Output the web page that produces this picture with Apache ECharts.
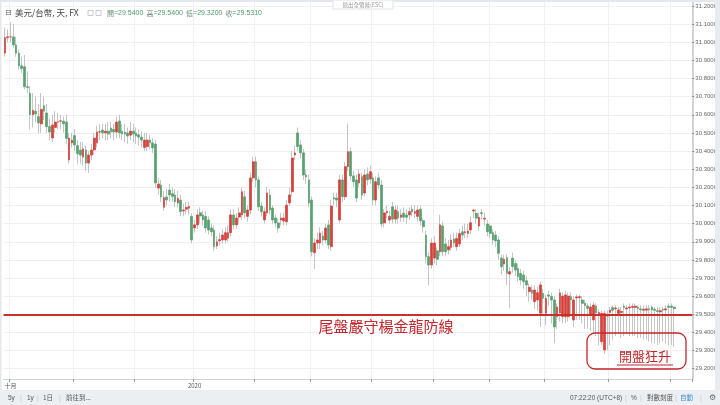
<!DOCTYPE html>
<html><head><meta charset="utf-8">
<script src="https://cdn.jsdelivr.net/npm/echarts@6/dist/echarts.min.js"></script>
<style>html,body{margin:0;padding:0;background:#fff}#c{width:720px;height:405px}</style>
</head><body><div id="c"></div>
<script>
// ---- data ----
const months = ['2019-09','2019-10','2019-11','2019-12','2020-01','2020-02','2020-03','2020-04','2020-05','2020-06','2020-07','2020-08','2020-09'];
const barsPerMonth = [2,23,22,21,22,20,22,22,20,20,23,22,2];
const xLabels = {'2019-10':'十月','2020-01':'2020'};
const openP = [30.94,31.025,31.03,31.03,30.985,30.94,30.87,30.865,30.755,30.72,30.60,30.62,30.59,30.55,30.65,30.61,30.535,30.472,30.53,30.56,30.565,30.565,30.56,30.351,30.445,30.485,30.43,30.406,30.367,30.406,30.334,30.378,30.406,30.445,30.505,30.516,30.50,30.51,30.527,30.52,30.505,30.566,30.51,30.505,30.50,30.488,30.51,30.50,30.49,30.477,30.42,30.425,30.461,30.445,30.439,30.196,30.213,30.09,30.147,30.185,30.165,30.158,30.114,30.13,30.07,30.08,30.085,30.04,29.976,29.993,30.06,30.048,30.04,30.02,29.976,29.965,29.877,29.905,29.91,29.91,29.92,29.95,30.048,29.993,30.036,30.048,30.148,30.04,30.075,30.252,30.341,30.241,30.097,30.02,30.059,30.158,30.086,30.031,30.004,30.02,30.015,30.01,30.114,30.176,30.378,30.50,30.434,30.39,30.268,30.241,30.13,29.84,29.893,29.893,29.932,29.91,29.993,29.873,30.143,30.141,30.02,30.241,30.148,30.314,30.397,30.263,30.241,30.224,30.259,30.169,30.274,30.246,30.252,30.13,30.252,30.213,30.004,30.06,30.02,30.093,30.025,30.066,30.035,30.057,30.048,30.048,30.08,30.057,30.04,30.08,30.016,29.937,29.818,29.772,29.81,29.85,29.845,29.987,29.888,29.855,29.869,29.915,29.873,29.888,29.955,29.95,29.946,29.965,30.07,30.057,29.987,30.06,30.025,29.998,29.987,29.95,29.937,29.91,29.81,29.777,29.812,29.722,29.81,29.78,29.753,29.726,29.717,29.685,29.625,29.634,29.57,29.579,29.506,29.616,29.506,29.607,29.598,29.579,29.487,29.507,29.487,29.487,29.487,29.598,29.469,29.59,29.592,29.579,29.562,29.546,29.496,29.469,29.545,29.50,29.349,29.303,29.49,29.51,29.537,29.53,29.505,29.51,29.545,29.53,29.535,29.538,29.538,29.54,29.53,29.522,29.523,29.53,29.54,29.528,29.52,29.513,29.528,29.524,29.545,29.545,29.54];
const closeP = [31.025,31.03,31.03,30.985,30.94,30.87,30.855,30.755,30.75,30.60,30.625,30.605,30.555,30.63,30.62,30.535,30.505,30.544,30.56,30.562,30.567,30.55,30.47,30.472,30.46,30.434,30.385,30.378,30.412,30.334,30.378,30.406,30.472,30.505,30.507,30.50,30.51,30.494,30.505,30.505,30.56,30.50,30.494,30.494,30.483,30.51,30.494,30.483,30.477,30.461,30.461,30.461,30.445,30.417,30.224,30.218,30.147,30.143,30.13,30.158,30.15,30.12,30.14,30.066,30.075,30.09,30.095,29.91,29.993,30.048,30.042,30.02,29.976,29.965,29.955,29.873,29.90,29.912,29.937,29.95,29.95,30.048,29.993,30.031,30.059,30.176,30.059,30.075,30.252,30.341,30.241,30.093,30.066,30.066,30.169,30.075,30.02,30.004,29.976,30.031,30.031,30.102,30.158,30.362,30.39,30.425,30.39,30.268,30.257,30.114,29.845,29.893,29.91,29.948,29.91,29.976,29.882,30.097,30.136,30.13,30.241,30.148,30.314,30.397,30.263,30.231,30.141,30.274,30.158,30.268,30.241,30.286,30.13,30.231,30.213,29.998,30.059,30.068,30.04,30.025,30.075,30.03,30.048,30.035,30.035,30.066,30.064,30.066,30.075,30.016,29.983,29.818,29.772,29.893,29.893,29.803,29.993,29.845,29.845,29.873,29.91,29.893,29.918,29.946,29.937,29.955,29.959,30.005,30.075,30.03,30.035,30.055,30.03,29.955,29.946,29.91,29.905,29.836,29.763,29.803,29.726,29.735,29.763,29.744,29.707,29.689,29.68,29.662,29.649,29.616,29.634,29.619,29.662,29.588,29.588,29.60,29.579,29.43,29.54,29.618,29.60,29.607,29.601,29.579,29.579,29.596,29.597,29.56,29.548,29.533,29.54,29.551,29.507,29.51,29.505,29.505,29.50,29.523,29.522,29.535,29.524,29.516,29.538,29.535,29.54,29.544,29.545,29.533,29.524,29.528,29.53,29.524,29.524,29.522,29.515,29.52,29.523,29.53,29.538,29.538,29.531];
const highP = [31.08,31.07,31.11,31.10,31.03,30.96,30.92,30.93,30.84,30.76,30.72,30.70,30.66,30.72,30.70,30.66,30.58,30.60,30.62,30.61,30.60,30.59,30.60,30.50,30.50,30.52,30.46,30.45,30.45,30.43,30.40,30.44,30.50,30.54,30.55,30.55,30.55,30.56,30.56,30.55,30.59,30.60,30.55,30.55,30.53,30.56,30.55,30.53,30.52,30.51,30.50,30.50,30.49,30.47,30.46,30.25,30.24,30.18,30.19,30.22,30.20,30.19,30.18,30.16,30.11,30.12,30.12,30.06,30.02,30.08,30.09,30.07,30.07,30.04,30.00,29.99,29.93,29.95,29.97,29.98,29.99,30.08,30.08,30.06,30.09,30.20,30.18,30.10,30.28,30.37,30.37,30.26,30.12,30.09,30.20,30.19,30.10,30.05,30.03,30.06,30.06,30.13,30.20,30.40,30.43,30.53,30.46,30.41,30.30,30.27,30.15,29.92,29.95,29.98,29.96,30.00,30.02,30.13,30.17,30.17,30.27,30.27,30.34,30.55,30.42,30.29,30.27,30.30,30.28,30.30,30.31,30.32,30.28,30.26,30.28,30.24,30.08,30.10,30.07,30.12,30.10,30.10,30.08,30.09,30.08,30.09,30.10,30.10,30.10,30.10,30.03,29.96,29.84,29.92,29.93,29.87,30.05,30.01,29.92,29.91,29.94,29.95,29.95,29.97,29.99,30.00,30.00,30.04,30.08,30.08,30.06,30.08,30.06,30.02,30.00,29.97,29.96,29.93,29.83,29.83,29.83,29.76,29.84,29.80,29.78,29.75,29.74,29.71,29.67,29.66,29.66,29.65,29.68,29.64,29.61,29.63,29.62,29.60,29.56,29.64,29.62,29.63,29.62,29.62,29.60,29.61,29.61,29.60,29.58,29.56,29.56,29.57,29.56,29.53,29.52,29.52,29.52,29.54,29.55,29.55,29.54,29.54,29.56,29.55,29.56,29.56,29.56,29.55,29.55,29.55,29.55,29.55,29.55,29.54,29.54,29.54,29.54,29.55,29.56,29.56,29.54];
const lowP = [30.92,31.00,31.00,30.97,30.92,30.85,30.83,30.74,30.72,30.52,30.53,30.56,30.50,30.50,30.57,30.50,30.46,30.45,30.50,30.52,30.52,30.50,30.44,30.33,30.42,30.40,30.33,30.33,30.32,30.29,30.28,30.35,30.38,30.42,30.46,30.47,30.46,30.46,30.47,30.46,30.47,30.47,30.46,30.45,30.44,30.46,30.45,30.44,30.43,30.42,30.40,30.40,30.41,30.39,30.20,30.16,30.12,30.07,30.10,30.12,30.12,30.09,30.09,30.04,30.04,30.05,30.05,29.89,29.95,29.97,30.00,29.99,29.95,29.94,29.93,29.85,29.86,29.88,29.89,29.89,29.90,29.93,29.97,29.97,30.00,30.02,30.03,30.01,30.05,30.23,30.20,30.07,30.04,30.00,30.04,30.05,30.00,29.98,29.95,29.99,29.99,29.99,30.10,30.15,30.35,30.40,30.36,30.24,30.22,30.09,29.82,29.75,29.86,29.86,29.88,29.89,29.86,29.85,30.10,30.09,30.00,30.12,30.13,30.29,30.24,30.20,30.12,30.20,30.13,30.15,30.21,30.22,30.10,30.10,30.19,29.98,29.98,30.03,30.00,30.00,30.00,30.00,30.01,30.01,30.00,30.02,30.04,30.03,30.01,29.99,29.95,29.78,29.66,29.75,29.78,29.77,29.82,29.82,29.82,29.83,29.85,29.87,29.85,29.87,29.91,29.92,29.92,29.94,30.03,30.00,29.96,30.02,29.99,29.93,29.92,29.88,29.87,29.80,29.72,29.74,29.66,29.535,29.73,29.71,29.68,29.66,29.64,29.60,29.57,29.58,29.53,29.52,29.43,29.50,29.44,29.55,29.45,29.34,29.42,29.46,29.45,29.45,29.46,29.50,29.43,29.47,29.47,29.45,29.42,29.42,29.41,29.39,29.38,29.33,29.33,29.28,29.30,29.33,29.36,29.38,29.40,29.37,29.38,29.39,29.38,29.38,29.38,29.37,29.37,29.36,29.36,29.35,29.34,29.34,29.33,29.34,29.35,29.34,29.33,29.33,29.32];
const refLevel = 29.5;
const yMin = 29.1432, yMax = 31.2331;
const titleText = '美元/台幣, 天, FX';
const noteLine = '尾盤嚴守楊金龍防線';
const noteBox = '開盤狂升';

// ---- styling ----
const RED = '#d63f3a', GREEN = '#57a06f', WICK = '#c4c4c4', NOTE = '#c4262b';
const FONT = '"Liberation Sans","Noto Sans CJK TC",sans-serif';
const CJK = '"Noto Sans CJK TC","Noto Sans CJK SC",sans-serif';

const N = openP.length;
const cats = [];
const monthStart = new Set();
const labelAt = {};
let acc = 0;
months.forEach((m, mi) => {
  if (mi > 0) monthStart.add(acc);
  if (xLabels[m]) labelAt[acc] = xLabels[m];
  for (let k = 0; k < barsPerMonth[mi]; k++) cats.push(m + '-' + (k + 1));
  acc += barsPerMonth[mi];
});
for (let k = 0; k < 6; k++) cats.push('');

const wickData = openP.map((o, i) => [o, closeP[i], lowP[i], highP[i]]);
const bodyData = openP.map((o, i) => [o, closeP[i], Math.min(o, closeP[i]), Math.max(o, closeP[i])]);
const last = N - 1;
const f4 = v => v.toFixed(4);

const sep = x => ({ type: 'text', x: x, y: 398, style: { text: '|', fill: '#c8c8c8', fontSize: 7, fontFamily: FONT, verticalAlign: 'middle' }, z: 52 });
const tb = (x, t, c, fam) => ({ type: 'text', x: x, y: 398, style: { text: t, fill: c || '#555', fontSize: 6.5, fontFamily: fam || CJK, verticalAlign: 'middle' }, z: 52 });

const chart = echarts.init(document.getElementById('c'));
chart.setOption({
  animation: false,
  backgroundColor: '#ffffff',
  grid: { left: 3.6, right: 27, top: 0, bottom: 26 },
  xAxis: {
    type: 'category', data: cats, boundaryGap: true,
    axisLine: { show: true, lineStyle: { color: '#cfd2d6', width: 1 } },
    axisTick: { show: true, interval: i => monthStart.has(i), length: 3, lineStyle: { color: '#9a9a9a' } },
    axisLabel: { interval: i => labelAt[i] !== undefined, formatter: (v, i) => labelAt[i] || '', fontSize: 6, color: '#555', margin: 4, fontFamily: CJK },
    splitLine: { show: true, interval: i => monthStart.has(i), lineStyle: { color: '#eef0f3', width: 1 } }
  },
  yAxis: {
    type: 'value', position: 'right', min: yMin, max: yMax, scale: true,
    splitNumber: 20, minInterval: 0.1, maxInterval: 0.1,
    axisLine: { show: true, lineStyle: { color: '#c4c7cb', width: 1.5 } },
    axisTick: { show: true, length: 2, lineStyle: { color: '#888' } },
    axisLabel: { fontSize: 6, color: '#666', margin: 3, formatter: v => f4(v), showMinLabel: false, showMaxLabel: false, fontFamily: FONT },
    splitLine: { show: true, lineStyle: { color: '#eef0f3', width: 1 } }
  },
  series: [
    {
      type: 'candlestick', name: 'wick', data: wickData, barWidth: 0.6, silent: true, z: 2,
      itemStyle: { color: WICK, color0: WICK, borderColor: WICK, borderColor0: WICK, borderWidth: 1 },
      markLine: {
        silent: true, symbol: 'none', animation: false,
        label: { show: false },
        lineStyle: { color: '#c9302c', width: 2, type: 'solid' },
        data: [{ yAxis: refLevel }]
      }
    },
    {
      type: 'candlestick', name: 'body', data: bodyData, barWidth: 2.2, silent: true, z: 3,
      itemStyle: { color: RED, color0: GREEN, borderColor: RED, borderColor0: GREEN, borderWidth: 0.7 },
      markLine: {
        silent: true, symbol: 'none', animation: false,
        lineStyle: { opacity: 0 },
        label: { show: true, position: 'end', distance: 0, formatter: f4(closeP[last]), color: '#fff', backgroundColor: GREEN, fontSize: 6.5, padding: [2, 3, 1, 3], fontFamily: FONT },
        data: [{ yAxis: closeP[last] }]
      }
    }
  ],
  graphic: [
    { type: 'rect', shape: { x: 0, y: 0, width: 720, height: 2 }, style: { fill: '#e4e7eb' }, z: 50 },
    { type: 'rect', shape: { x: 715, y: 0, width: 5, height: 405 }, style: { fill: '#e9ecef' }, z: 50 },
    { type: 'rect', shape: { x: 0, y: 0, width: 1.5, height: 390 }, style: { fill: '#e4e7eb' }, z: 50 },
    { type: 'rect', shape: { x: 0, y: 390, width: 720, height: 15 }, style: { fill: '#eceff2' }, z: 50 },
    { type: 'rect', shape: { x: 333, y: 0, width: 60, height: 9 }, style: { fill: '#fff', stroke: '#e3e3e3', lineWidth: 1 }, z: 51 },
    { type: 'text', x: 363, y: 4.5, style: { text: '退出全螢幕(ESC)', fill: '#9a9a9a', fontSize: 5.5, fontFamily: CJK, align: 'center', verticalAlign: 'middle' }, z: 52 },
    { type: 'text', x: 5, y: 13, style: { text: '⊟', fill: '#666', fontSize: 8, fontFamily: '"DejaVu Sans"', verticalAlign: 'middle' }, z: 52 },
    { type: 'text', x: 15, y: 13, style: { text: titleText, fill: '#444', fontSize: 8.5, fontFamily: CJK, verticalAlign: 'middle' }, z: 52 },
    { type: 'rect', shape: { x: 88, y: 10.5, width: 5, height: 5 }, style: { fill: 'none', stroke: '#bbb', lineWidth: 0.8 }, z: 52 },
    { type: 'rect', shape: { x: 96, y: 10.5, width: 5, height: 5 }, style: { fill: 'none', stroke: '#bbb', lineWidth: 0.8 }, z: 52 },
    { type: 'text', x: 107, y: 13, style: {
        text: '{l|開}{v|=' + f4(openP[last]) + '}  {l|高}{v|=' + f4(highP[last]) + '}  {l|低}{v|=' + f4(lowP[last]) + '}  {l|收}{v|=' + f4(closeP[last]) + '}',
        fontSize: 7, fontFamily: CJK, verticalAlign: 'middle',
        rich: { l: { fill: '#6f8f7c', fontSize: 7, fontFamily: CJK }, v: { fill: '#4f9a6a', fontSize: 7, fontFamily: FONT } }
      }, z: 52 },
    tb(8, '5y', null, FONT), sep(20), tb(27, '1y', null, FONT), sep(37), tb(43, '1日'), sep(59), tb(66, '前往到...'),
    tb(570, '07:22:20 (UTC+8)', null, FONT), sep(625), tb(631, '%', null, FONT), sep(640), tb(647, '對數刻度'), sep(675),
    tb(680, '自動', '#3d8fd6'), sep(700),
    { type: 'text', x: 709, y: 398, style: { text: '⚙', fill: '#666', fontSize: 8, fontFamily: '"DejaVu Sans"', verticalAlign: 'middle' }, z: 52 },
    { type: 'text', x: 386, y: 326, style: { text: noteLine, fill: NOTE, fontSize: 15, fontWeight: 'normal', fontFamily: CJK, align: 'center', verticalAlign: 'middle' }, z: 60 },
    { type: 'rect', shape: { x: 587, y: 333, width: 99, height: 36, r: 8 }, style: { fill: 'none', stroke: NOTE, lineWidth: 1.3 }, z: 60 },
    { type: 'text', x: 645, y: 356, style: { text: noteBox, fill: NOTE, fontSize: 13, fontWeight: 'normal', fontFamily: CJK, align: 'center', verticalAlign: 'middle' }, z: 60 },
    { type: 'line', shape: { x1: 617, y1: 365, x2: 673, y2: 365 }, style: { stroke: NOTE, lineWidth: 1 }, z: 60 }
  ]
});
</script>
</body></html>
